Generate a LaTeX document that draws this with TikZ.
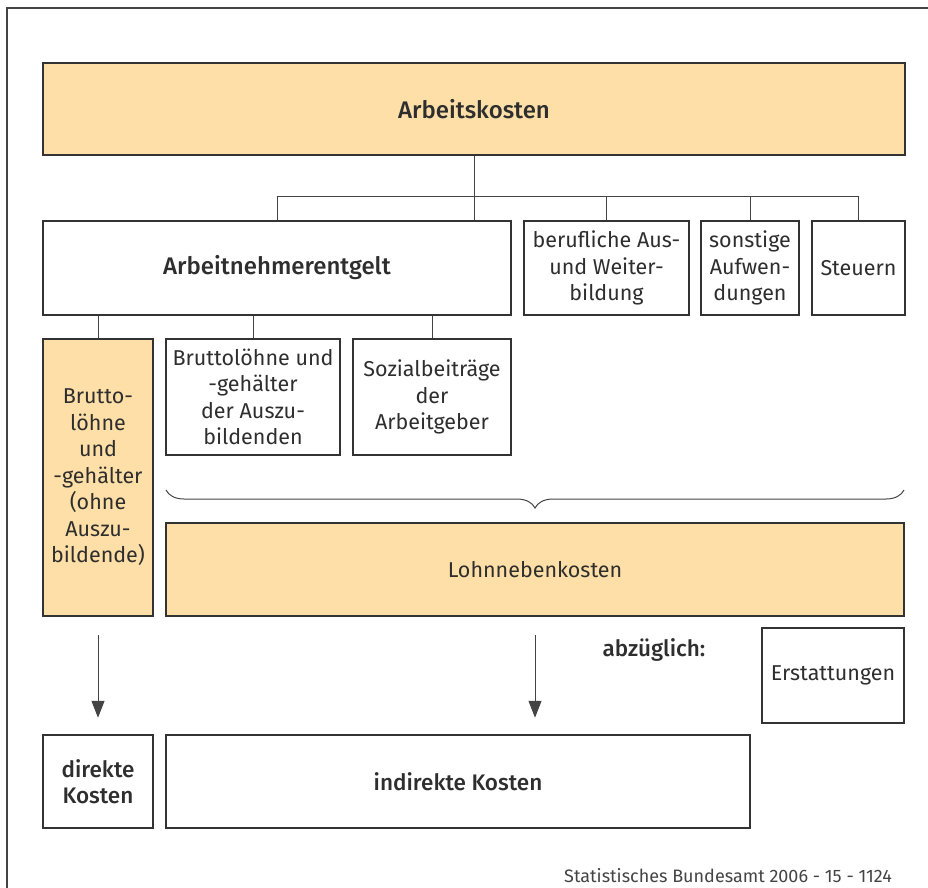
\documentclass[tikz,border=0pt]{standalone}
\usepackage{fontspec}
\setmainfont{Fira Sans}[BoldFont={Fira Sans Medium}]
\usetikzlibrary{arrows.meta,decorations.pathreplacing}
\definecolor{boxc}{HTML}{333333}
\definecolor{linec}{HTML}{444444}
\definecolor{orangefill}{HTML}{FEDFA7}
\definecolor{txt}{HTML}{2E2E2E}
\tikzset{
  boxnode/.style={draw=boxc, line width=2.5pt, align=center, inner sep=0pt, text=txt,
    font=\fontsize{21.5}{26.5}\selectfont},
  orangebox/.style={boxnode, fill=orangefill},
  boldtext/.style={font=\fontsize{22.5}{26.5}\selectfont\bfseries},
  conn/.style={draw=linec, line width=1pt},
  arrowconn/.style={draw=linec, line width=1pt, -{Triangle[width=13pt,length=17pt]}},
}
\begin{document}
\begin{tikzpicture}[x=1pt,y=-1pt]
\useasboundingbox (0,0) rectangle (928,887);
\draw[draw=linec, line width=1.5pt] (7,890) -- (7,8) -- (932,8);

% top
\node[orangebox, minimum width=862pt, minimum height=92pt, font=\fontsize{24}{28}\selectfont\bfseries] (ak) at (474,109) {Arbeitskosten};

% second row
\node[boxnode, minimum width=468pt, minimum height=94pt, font=\fontsize{24}{28}\selectfont\bfseries] (an) at (277,268) {Arbeitnehmerentgelt};
\node[boxnode, minimum width=165pt, minimum height=94pt] (bw) at (606.5,268) {berufliche Aus-\\und Weiter-\\bildung};
\node[boxnode, minimum width=98pt, minimum height=94pt] (sa) at (750,268) {sonstige\\Aufwen-\\dungen};
\node[boxnode, minimum width=93pt, minimum height=94pt] (st) at (858.5,268) {Steuern};

% third row
\node[orangebox, minimum width=110pt, minimum height=277pt] (br) at (98,477.5) {Brutto-\\löhne\\und\\-gehälter\\(ohne\\Auszu-\\bildende)};
\node[boxnode, minimum width=174pt, minimum height=116pt] (az) at (253,397) {Bruttolöhne und\\-gehälter\\der Auszu-\\bildenden};
\node[boxnode, minimum width=158pt, minimum height=116pt] (sz) at (432,397) {Sozialbeiträge\\der\\Arbeitgeber};

% Lohnnebenkosten
\node[orangebox, minimum width=738pt, minimum height=93pt] (ln) at (535,569.5) {Lohnnebenkosten};

% brace
\draw[draw=linec, line width=1pt, decorate, decoration={brace, mirror, amplitude=18pt}] (166,490) -- (904,490);

% abzueglich and Erstattungen
\node[text=txt, boldtext, inner sep=0pt] (abz) at (654,650) {abzüglich:};
\node[boxnode, minimum width=142pt, minimum height=95pt] (er) at (833,675.5) {Erstattungen};

% bottom row
\node[boxnode, boldtext, minimum width=110pt, minimum height=93pt] (dk) at (98,781.5) {direkte\\Kosten};
\node[boxnode, boldtext, minimum width=584pt, minimum height=93pt] (ik) at (458,781.5) {indirekte Kosten};

% connectors top
\draw[conn] (ak.south) -- (ak.south |- an.north);
\draw[conn] (an.north) -- ++(0,-23) -| (st.north);
\draw[conn] (bw.north) -- ++(0,-23);
\draw[conn] (sa.north) -- ++(0,-23);

% connectors second to third row
\draw[conn] (br.north) -- (br.north |- an.south);
\draw[conn] (az.north) -- (az.north |- an.south);
\draw[conn] (sz.north) -- (sz.north |- an.south);

% arrows
\draw[arrowconn] ([yshift=-18pt]br.south) -- ([yshift=16pt]dk.north);
\draw[arrowconn] ([yshift=-18pt]ln.south) -- ([yshift=16pt]ln.south |- ik.north);

% footer
\node[anchor=base west, text=linec, font=\fontsize{18}{22}\selectfont, inner sep=0pt] (src) at (564,882) {Statistisches Bundesamt 2006 - 15 - 1124};
\end{tikzpicture}
\end{document}
